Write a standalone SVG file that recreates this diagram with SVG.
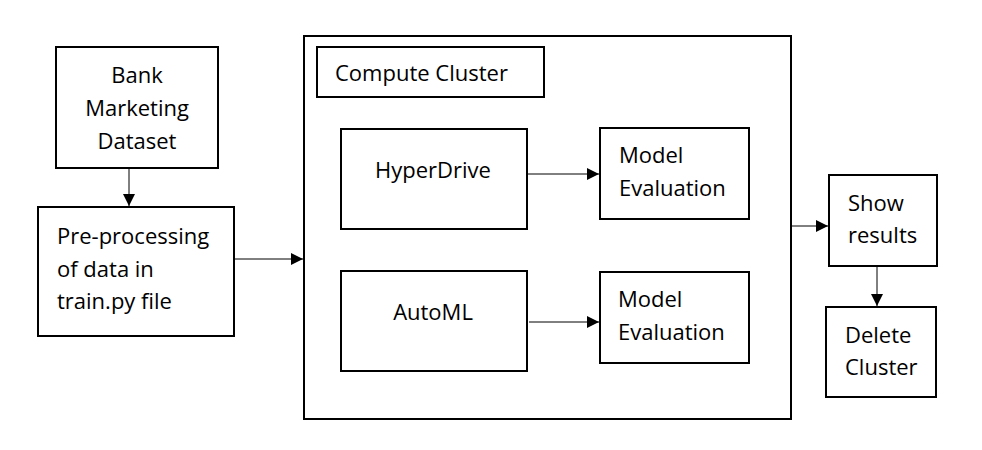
<svg xmlns="http://www.w3.org/2000/svg" width="982" height="450" viewBox="0 0 982 450">
<defs>
<marker id="ah" markerWidth="12" markerHeight="12" refX="12" refY="6" orient="auto" markerUnits="userSpaceOnUse">
<path d="M0,0 L12,6 L0,12 Z" fill="#000"/>
</marker>
<style>
.box{fill:#fff;stroke:#000;stroke-width:2}
.t{font-family:"Open Sans","Liberation Sans",sans-serif;font-size:22px;fill:#000}
.c{text-anchor:middle}
.con{stroke:#000;stroke-width:1;fill:none;marker-end:url(#ah)}
</style>
</defs>
<rect width="982" height="450" fill="#fff"/>
<g id="compute">
<rect class="box" x="304" y="36" width="487" height="383"/>
</g>
<g id="cluster-label">
<rect class="box" x="317" y="47" width="227" height="50"/>
<text class="t" x="335" y="81">Compute Cluster</text>
</g>
<g id="bank">
<rect class="box" x="56" y="47" width="162" height="121"/>
<text class="t c" x="137" y="83">Bank</text>
<text class="t c" x="137" y="116">Marketing</text>
<text class="t c" x="137" y="149">Dataset</text>
</g>
<g id="preproc">
<rect class="box" x="38" y="207" width="196" height="129"/>
<text class="t" x="57" y="244">Pre-processing</text>
<text class="t" x="57" y="277">of data in</text>
<text class="t" x="57" y="309">train.py file</text>
</g>
<g id="hyperdrive">
<rect class="box" x="341" y="129" width="186" height="100"/>
<text class="t c" x="433" y="178">HyperDrive</text>
</g>
<g id="eval1">
<rect class="box" x="600" y="128" width="149" height="91"/>
<text class="t" x="619" y="163">Model</text>
<text class="t" x="619" y="196">Evaluation</text>
</g>
<g id="automl">
<rect class="box" x="341" y="271" width="186" height="100"/>
<text class="t c" x="433" y="320">AutoML</text>
</g>
<g id="eval2">
<rect class="box" x="600" y="272" width="149" height="91"/>
<text class="t" x="618" y="307">Model</text>
<text class="t" x="618" y="340">Evaluation</text>
</g>
<g id="show">
<rect class="box" x="829" y="175" width="108" height="91"/>
<text class="t" x="848" y="211">Show</text>
<text class="t" x="848" y="243">results</text>
</g>
<g id="delete">
<rect class="box" x="826" y="307" width="110" height="90"/>
<text class="t" x="845" y="343">Delete</text>
<text class="t" x="845" y="375">Cluster</text>
</g>
<g id="connectors">
<line class="con" x1="129" y1="169" x2="129" y2="206"/>
<line class="con" x1="235" y1="259" x2="303" y2="259"/>
<line class="con" x1="528" y1="174" x2="599" y2="174"/>
<line class="con" x1="529" y1="322" x2="599" y2="322"/>
<line class="con" x1="792" y1="226" x2="828" y2="226"/>
<line class="con" x1="877" y1="267" x2="877" y2="306"/>
</g>
</svg>
